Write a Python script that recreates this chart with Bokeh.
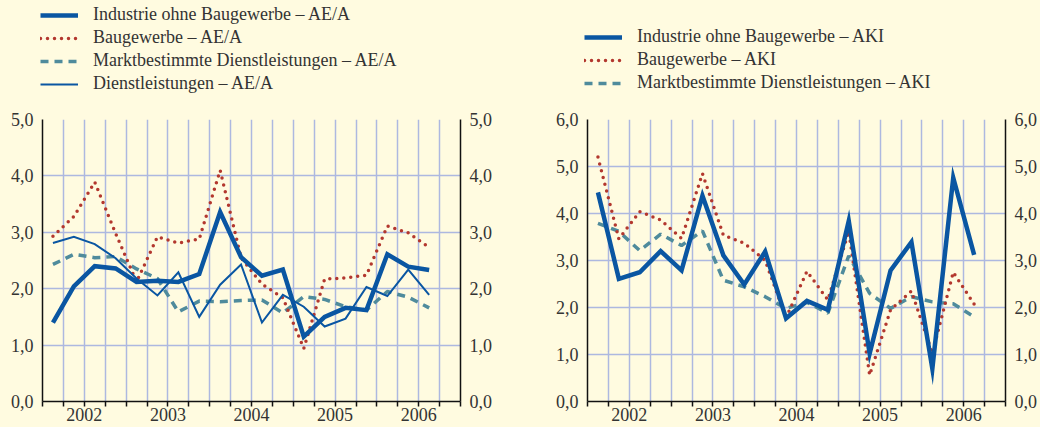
from bokeh.plotting import figure
from bokeh.models import Range1d, FixedTicker, LinearAxis, Legend, LegendItem
from bokeh.layouts import row, column
from bokeh.embed import file_html
from bokeh.resources import INLINE

# ---------------- data ----------------
years = ["2002", "2003", "2004", "2005", "2006"]
quarters = [f"{y} Q{q}" for y in years for q in range(1, 5)][:19]

industrie_aea = [1.40, 2.04, 2.40, 2.36, 2.12, 2.14, 2.12, 2.26, 3.36, 2.56,
                 2.23, 2.34, 1.15, 1.50, 1.66, 1.62, 2.61, 2.39, 2.33]
bau_aea = [2.93, 3.28, 3.89, 2.98, 2.12, 2.92, 2.81, 2.88, 4.10, 2.55,
           2.08, 1.84, 0.94, 2.17, 2.19, 2.24, 3.11, 2.99, 2.73]
markt_aea = [2.43, 2.61, 2.55, 2.57, 2.35, 2.18, 1.59, 1.78, 1.77, 1.79,
             1.80, 1.57, 1.86, 1.81, 1.68, 1.62, 1.95, 1.85, 1.66]
dienst_aea = [2.81, 2.92, 2.79, 2.54, 2.18, 1.88, 2.29, 1.50, 2.07, 2.43,
              1.40, 1.89, 1.68, 1.33, 1.47, 2.03, 1.87, 2.34, 1.89]

industrie_aki = [4.45, 2.61, 2.75, 3.20, 2.79, 4.38, 3.11, 2.49, 3.19, 1.77,
                 2.14, 1.95, 3.84, 1.02, 2.79, 3.39, 0.70, 4.76, 3.12]
bau_aki = [5.20, 3.46, 4.04, 3.86, 3.47, 4.85, 3.54, 3.37, 3.00, 1.78,
           2.77, 2.16, 3.62, 0.56, 1.95, 2.35, 1.02, 2.75, 2.07]
markt_aki = [3.79, 3.62, 3.21, 3.56, 3.32, 3.63, 2.58, 2.44, 2.23, 1.98,
             2.11, 1.88, 3.10, 2.30, 1.98, 2.23, 2.12, 2.08, 1.80]

left_yticks = [0, 1, 2, 3, 4, 5]
right_yticks = [0, 1, 2, 3, 4, 5, 6]

labels_left = ["Industrie ohne Baugewerbe \u2013 AE/A", "Baugewerbe \u2013 AE/A",
               "Marktbestimmte Dienstleistungen \u2013 AE/A", "Dienstleistungen \u2013 AE/A"]
labels_right = ["Industrie ohne Baugewerbe \u2013 AKI", "Baugewerbe \u2013 AKI",
                "Marktbestimmte Dienstleistungen \u2013 AKI"]

# ---------------- style ----------------
BG = "#fffbe0"
FONT = "Liberation Serif"
FS = "18px"
TXT = "#333333"
GRID = "#adb8e0"
BLUE = "#0a56a2"
RED = "#b3372e"
TEAL = "#4f8b9c"
LEG_H = 105          # height of the legend strip above the charts
H = 427 - LEG_H      # chart height
TOP = 14
BOTTOM = 26

nq = len(years) * 4
xpos = [i + 0.5 for i in range(len(quarters))]


def fmt(v):
    return f"{v:.1f}".replace(".", ",")


def draw_series(p, series):
    renderers = {}
    for key, vals in series:
        n = len(vals)
        if key == "markt":
            r = p.line(xpos[:n], vals, line_color=TEAL, line_width=3.5, line_dash="8 6")
        elif key == "bau":
            r = p.line(xpos[:n], vals, line_color=RED, line_width=3.5, line_dash="0 7",
                       line_cap="round")
        elif key == "dienst":
            r = p.line(xpos[:n], vals, line_color=BLUE, line_width=2, line_join="miter")
        else:
            r = p.line(xpos[:n], vals, line_color=BLUE, line_width=4.5, line_join="miter")
        renderers[key] = r
    return renderers


def style_y(ax, ticks):
    ax.ticker = FixedTicker(ticks=ticks)
    ax.major_label_overrides = {t: fmt(t) for t in ticks}
    ax.major_tick_in = 0
    ax.major_tick_out = 0
    ax.minor_tick_line_color = None
    ax.axis_line_color = "#111111"
    ax.axis_line_width = 1.5
    ax.major_label_text_font = FONT
    ax.major_label_text_font_size = FS
    ax.major_label_text_color = TXT
    ax.major_label_standoff = 9


def make_panel(width, ymax, yticks, min_left, min_right, series):
    p = figure(width=width, height=H, output_backend="svg", toolbar_location=None,
               x_range=Range1d(0, nq), y_range=Range1d(0, ymax),
               min_border_left=min_left, min_border_right=min_right,
               min_border_top=TOP, min_border_bottom=BOTTOM,
               background_fill_color=BG, border_fill_color=BG,
               outline_line_color=None)
    # x axis
    xa = p.xaxis[0]
    year_centers = [4 * k + 2 for k in range(len(years))]
    xa.ticker = FixedTicker(ticks=year_centers, minor_ticks=list(range(0, nq + 1)))
    xa.major_label_overrides = {c: y for c, y in zip(year_centers, years)}
    xa.major_tick_out = 5
    xa.major_tick_in = 0
    xa.major_tick_line_color = None
    xa.minor_tick_out = 5
    xa.minor_tick_in = 0
    xa.minor_tick_line_color = "#111111"
    xa.minor_tick_line_width = 1.5
    xa.axis_line_color = "#111111"
    xa.axis_line_width = 1.5
    xa.major_label_text_font = FONT
    xa.major_label_text_font_size = FS
    xa.major_label_text_color = TXT
    xa.major_label_standoff = 1
    # y axes
    style_y(p.yaxis[0], yticks)
    ra = LinearAxis()
    style_y(ra, yticks)
    p.add_layout(ra, "right")
    # grid
    p.xgrid.ticker = FixedTicker(ticks=list(range(1, nq)))
    p.ygrid.ticker = FixedTicker(ticks=yticks[1:])
    p.xgrid.grid_line_color = GRID
    p.ygrid.grid_line_color = GRID
    p.xgrid.grid_line_width = 1.5
    p.ygrid.grid_line_width = 1.5
    draw_series(p, series)
    return p


def make_legend_strip(width, series, labels, legend_left, legend_bottom):
    # a strip above each chart holding its key; the series are drawn again but the
    # view is moved away from them so only the legend samples show
    lp = figure(width=width, height=LEG_H, output_backend="svg", toolbar_location=None,
                x_range=Range1d(0, nq), y_range=Range1d(-100, -99),
                x_axis_type=None, y_axis_type=None,
                min_border_left=0, min_border_right=0, min_border_top=0, min_border_bottom=0,
                background_fill_color=BG, border_fill_color=BG, outline_line_color=None)
    lp.grid.visible = False
    rs = draw_series(lp, series)
    items = [LegendItem(label=lab, renderers=[rs[key]])
             for (key, _), lab in zip(series, labels)]
    lg = Legend(items=items, location=(legend_left, LEG_H - legend_bottom),
                orientation="vertical", padding=0, margin=0, spacing=2,
                glyph_width=38, glyph_height=20, label_height=20, label_standoff=15,
                label_text_font=FONT, label_text_font_size=FS, label_text_color=TXT,
                background_fill_alpha=0, border_line_alpha=0)
    lp.add_layout(lg)
    return lp


left_series = [("ind", industrie_aea), ("bau", bau_aea), ("markt", markt_aea),
               ("dienst", dienst_aea)]
right_series = [("ind", industrie_aki), ("bau", bau_aki), ("markt", markt_aki)]

p1 = make_panel(520, 5, left_yticks, 42, 60,
                [left_series[2], left_series[1], left_series[3], left_series[0]])
p2 = make_panel(520, 6, right_yticks, 67, 33,
                [right_series[2], right_series[1], right_series[0]])

l1 = make_legend_strip(520, left_series, labels_left, 40, 94)
l2 = make_legend_strip(520, right_series, labels_right, 64, 93)

layout = column(row(l1, l2), row(p1, p2))
html = file_html(layout, INLINE)
idx = html.rfind("</head>")
if idx != -1:
    html = html[:idx] + f"<style>html, body {{ background-color: {BG}; }}</style>" + html[idx:]
open("out.html", "w").write(html)
